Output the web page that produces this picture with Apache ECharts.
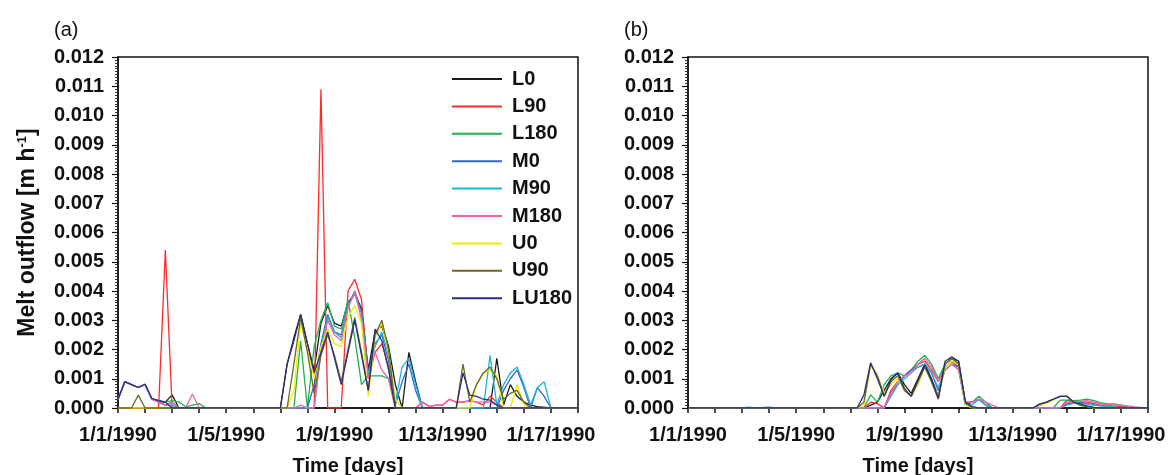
<!DOCTYPE html>
<html>
<head>
<meta charset="utf-8">
<title>Melt outflow</title>
<script src="https://cdn.jsdelivr.net/npm/echarts@6/dist/echarts.min.js"></script>
<style>
  html, body { margin: 0; padding: 0; background: #fff; }
  #chart { width: 1170px; height: 475px; }
</style>
</head>
<body>
<div id="chart"></div>
<script>
// series names and colours (legend order)
const names = ['L0', 'L90', 'L180', 'M0', 'M90', 'M180', 'U0', 'U90', 'LU180'];
const colors = ['#1a1a1a', '#ff2a2a', '#1fb04f', '#3566c8', '#19b6dc', '#f062a8', '#eeee00', '#6b6b1e', '#2b3080'];

// x tick labels every 4 days (x = days since 1/1/1990)
const dayLabels = ['1/1/1990', '1/5/1990', '1/9/1990', '1/13/1990', '1/17/1990'];

// panel (a): [day, melt outflow m/h]
const a_L0 = [[0,0.0003],[0.25,0.0009],[0.5,0.0008],[0.75,0.0007],[1,0.0008],[1.25,0.0003],[1.5,0.00025],[1.75,0.0002],[2,0.00045],[2.25,0],[6,0],[6.25,0.0015],[6.5,0.0024],[6.75,0.0032],[7,0.0022],[7.25,0.0013],[7.5,0.0029],[7.75,0.0035],[8,0.0029],[8.25,0.0028],[8.5,0.0036],[8.75,0.0039],[9,0.0034],[9.25,0.0013],[9.5,0.0026],[9.75,0.0028],[10,0.0021],[10.25,0.0008],[10.5,0],[10.75,0.0019],[11,0.0009],[11.25,0],[13.75,0],[14,0.0017],[14.25,0.0001],[14.5,0.0008],[14.75,0.0004],[15,0.0002],[15.25,0.0001],[15.5,0.00005],[16,0],[17,0]];
const a_L90 = [[0,0],[1.5,0],[1.75,0.0054],[2,0],[7.25,0],[7.5,0.0109],[7.75,0],[8.25,0],[8.5,0.004],[8.75,0.0044],[9,0.0037],[9.25,0.0011],[9.5,0.0019],[9.75,0.0022],[10,0.0014],[10.25,0],[11,0],[11.25,0.0002],[11.5,0.00005],[11.75,0.0001],[12,0.0001],[12.25,0.0003],[12.5,0.0002],[12.75,0.0002],[13,0.00025],[13.25,0.0002],[13.5,0.0001],[13.75,0.0004],[14,0.0002],[14.25,0],[17,0]];
const a_L180 = [[0,0.0003],[0.25,0.0009],[0.5,0.0008],[0.75,0.0007],[1,0.0008],[1.25,0.0003],[1.5,0.0002],[1.75,0.0002],[2,0.00025],[2.25,0.0002],[2.5,0.00005],[2.75,0.0001],[3,0.00015],[3.25,0],[6.5,0],[6.75,0.0023],[7,0],[7.25,0.0021],[7.5,0.003],[7.75,0.0036],[8,0.0028],[8.25,0.0027],[8.5,0.0037],[8.75,0.0024],[9,0.0008],[9.25,0.0011],[9.5,0.0011],[9.75,0.0011],[10,0.001],[10.25,0],[17,0]];
const a_M0 = [[0,0.0003],[0.25,0.0009],[0.5,0.0008],[0.75,0.0007],[1,0.0008],[1.25,0.0003],[1.5,0.00025],[1.75,0.0001],[2,0.0002],[2.25,0],[7,0],[7.25,0.0008],[7.5,0.0022],[7.75,0.0032],[8,0.0026],[8.25,0.0025],[8.5,0.0035],[8.75,0.004],[9,0.0033],[9.25,0.0012],[9.5,0.0022],[9.75,0.0025],[10,0.0016],[10.25,0.0001],[10.5,0.0009],[10.75,0.0015],[11,0.0006],[11.25,0],[14,0],[14.25,0.0006],[14.5,0.001],[14.75,0.0013],[15,0.0007],[15.25,0],[15.5,0.0007],[15.75,0.0004],[16,0],[17,0]];
const a_M90 = [[0,0.0003],[0.25,0.0009],[0.5,0.0008],[0.75,0.0007],[1,0.0008],[1.25,0.0003],[1.5,0.0002],[1.75,0.0001],[2,0.0001],[2.25,0],[7.25,0],[7.5,0.002],[7.75,0.0031],[8,0.0026],[8.25,0.0024],[8.5,0.0035],[8.75,0.0039],[9,0.0032],[9.25,0.0011],[9.5,0.0021],[9.75,0.0026],[10,0.0018],[10.25,0.0002],[10.5,0.0014],[10.75,0.0017],[11,0.0008],[11.25,0],[13.5,0],[13.75,0.0018],[14,0.0001],[14.25,0.0008],[14.5,0.0012],[14.75,0.0014],[15,0.0008],[15.25,0.0001],[15.5,0.0007],[15.75,0.0009],[16,0],[17,0]];
const a_M180 = [[0,0.0003],[0.25,0.0009],[0.5,0.0008],[0.75,0.0007],[1,0.0008],[1.25,0.0003],[1.5,0.0002],[1.75,0.0001],[2,0.0002],[2.25,0],[2.5,0],[2.75,0.00048],[3,0],[6.5,0],[6.75,0.0001],[7,0],[7.25,0],[7.5,0.0019],[7.75,0.003],[8,0.0025],[8.25,0.0023],[8.5,0.0034],[8.75,0.004],[9,0.003],[9.25,0.001],[9.5,0.0019],[9.75,0.0013],[10,0.001],[10.25,0],[11,0],[11.25,0.0002],[11.5,0.00005],[11.75,0.0001],[12,0.0001],[12.25,0.0003],[12.5,0.0002],[12.75,0.0002],[13,0.00025],[13.25,0.0002],[13.5,0.0002],[13.75,0.0002],[14,0.0001],[14.25,0],[17,0]];
const a_U0 = [[0,0],[6.25,0],[6.5,0.0006],[6.75,0.0029],[7,0.002],[7.25,0.001],[7.5,0.0021],[7.75,0.0027],[8,0.0022],[8.25,0.0021],[8.5,0.0031],[8.75,0.0035],[9,0.0029],[9.25,0.0004],[9.5,0.0024],[9.75,0.0029],[10,0.0019],[10.25,0.0003],[10.5,0],[13,0],[13.25,0.0008],[13.5,0.0012],[13.75,0.0013],[14,0.0011],[14.25,0],[14.5,0],[14.75,0.0008],[15,0.0001],[15.25,0],[17,0]];
const a_U90 = [[0,0],[0.5,0],[0.75,0.00044],[1,0],[6.25,0],[6.5,0.0015],[6.75,0.0031],[7,0.0019],[7.25,0.0005],[7.5,0.0018],[7.75,0.0025],[8,0.0018],[8.25,0.0009],[8.5,0.002],[8.75,0.0031],[9,0.0019],[9.25,0.0006],[9.5,0.0025],[9.75,0.003],[10,0.002],[10.25,0],[12.5,0],[12.75,0.0015],[13,0.0002],[13.25,0.0008],[13.5,0.0012],[13.75,0.0014],[14,0.001],[14.25,0.0003],[14.5,0.0005],[14.75,0.0006],[15,0.0002],[15.25,0],[17,0]];
const a_LU180 = [[0,0.0003],[0.25,0.0009],[0.5,0.0008],[0.75,0.0007],[1,0.00082],[1.25,0.00033],[1.5,0.00025],[1.75,0.0002],[2,0],[6,0],[6.25,0.0015],[6.5,0.0023],[6.75,0.0032],[7,0.0022],[7.25,0.0012],[7.5,0.0019],[7.75,0.0026],[8,0.0017],[8.25,0.0008],[8.5,0.0019],[8.75,0.003],[9,0.0018],[9.25,0.0006],[9.5,0.0027],[9.75,0.0023],[10,0.0013],[10.25,0],[12.5,0],[12.75,0.0012],[13,0.00044],[13.25,0.0004],[13.5,0.0003],[13.75,0.00027],[14,0.0001],[14.25,0],[17,0]];

// panel (b)
const b_L0 = [[0,0],[6.5,0],[6.75,0.0001],[7,0.0002],[7.25,0.0006],[7.5,0.001],[7.75,0.0012],[8,0.0008],[8.25,0.0005],[8.5,0.001],[8.75,0.0015],[9,0.001],[9.25,0.0004],[9.5,0.0015],[9.75,0.0017],[10,0.0016],[10.25,0.0002],[10.5,0],[12.75,0],[13,0.0001],[13.25,0.0002],[13.5,0.0003],[13.75,0.0004],[14,0.0004],[14.25,0.0002],[14.5,0.0001],[14.75,0.00005],[15,0],[17,0]];
const b_L90 = [[0,0],[6.5,0],[6.75,0.0002],[7,0.00015],[7.25,0],[7.5,0.0006],[7.75,0.0009],[8,0.0011],[8.25,0.0013],[8.5,0.0015],[8.75,0.0016],[9,0.0013],[9.25,0.0009],[9.5,0.0014],[9.75,0.0016],[10,0.0014],[10.25,0.0002],[10.5,0.0002],[10.75,0.0003],[11,0.0001],[11.25,0],[13.75,0],[14,0.00027],[14.25,0.0002],[14.5,0.0002],[14.75,0.0002],[15,0.00015],[15.25,0.0001],[15.5,0.0001],[16,0.00005],[16.5,0],[17,0]];
const b_L180 = [[0,0],[2,0],[2.25,0.00003],[2.5,0],[3,0.00003],[3.25,0],[6.5,0],[6.75,0.00045],[7,0.0002],[7.25,0.0008],[7.5,0.0011],[7.75,0.0012],[8,0.0011],[8.25,0.0013],[8.5,0.0016],[8.75,0.0018],[9,0.0015],[9.25,0.001],[9.5,0.0015],[9.75,0.0017],[10,0.0015],[10.25,0.0001],[10.5,0.0002],[10.75,0.0004],[11,0.0002],[11.25,0],[13.5,0],[13.75,0.00027],[14,0.00027],[14.25,0.00025],[14.5,0.00027],[14.75,0.0003],[15,0.00025],[15.25,0.00018],[15.5,0.00014],[15.75,0.00014],[16,0.0001],[16.25,0.00002],[16.5,0],[17,0]];
const b_M0 = [[0,0],[7.25,0],[7.5,0.0005],[7.75,0.0008],[8,0.0011],[8.25,0.0013],[8.5,0.0014],[8.75,0.0015],[9,0.0012],[9.25,0.0006],[9.5,0.0013],[9.75,0.0015],[10,0.0014],[10.25,0.0001],[10.5,0.0002],[10.75,0.0003],[11,0.0001],[11.25,0],[13.75,0],[14,0.00014],[14.25,0.00018],[14.5,0.00018],[14.75,0.00015],[15,0.0001],[15.25,0.00008],[15.5,0.00005],[16,0],[17,0]];
const b_M90 = [[0,0],[7.25,0],[7.5,0.0004],[7.75,0.0008],[8,0.001],[8.25,0.0012],[8.5,0.0014],[8.75,0.0015],[9,0.0012],[9.25,0.0007],[9.5,0.0013],[9.75,0.0015],[10,0.0013],[10.25,0.0001],[10.5,0.0001],[10.75,0.0003],[11,0.0001],[11.25,0],[13.75,0],[14,0.0001],[14.25,0.00016],[14.5,0.00016],[14.75,0.00014],[15,0.0001],[15.5,0.00005],[16,0],[17,0]];
const b_M180 = [[0,0],[7.25,0],[7.5,0.0005],[7.75,0.0009],[8,0.0011],[8.25,0.0012],[8.5,0.0015],[8.75,0.0017],[9,0.0014],[9.25,0.0009],[9.5,0.0013],[9.75,0.0015],[10,0.0013],[10.25,0.0002],[10.5,0.0002],[10.75,0.0003],[11,0.0002],[11.25,0.0001],[11.5,0],[13.75,0],[14,0.0002],[14.25,0.0002],[14.5,0.00023],[14.75,0.00025],[15,0.0002],[15.25,0.00015],[15.5,0.00012],[15.75,0.0001],[16,0.0001],[16.25,0.00007],[16.5,0.00004],[17,0]];
const b_U0 = [[0,0],[6.25,0],[6.5,0.0001],[6.75,0.0015],[7,0.0011],[7.25,0.0005],[7.5,0.0008],[7.75,0.001],[8,0.0006],[8.25,0.0004],[8.5,0.0008],[8.75,0.0014],[9,0.0009],[9.25,0.0004],[9.5,0.0014],[9.75,0.0016],[10,0.0015],[10.25,0.0001],[10.5,0],[12.75,0],[13,0.0001],[13.25,0.00016],[13.5,0.00027],[13.75,0.0004],[14,0.0004],[14.25,0.0002],[14.5,0.0001],[14.75,0.00005],[15,0],[17,0]];
const b_U90 = [[0,0],[6.25,0],[6.5,0.0002],[6.75,0.0015],[7,0.0011],[7.25,0.0004],[7.5,0.0009],[7.75,0.0011],[8,0.0006],[8.25,0.0004],[8.5,0.0009],[8.75,0.0014],[9,0.0009],[9.25,0.0003],[9.5,0.0015],[9.75,0.0017],[10,0.0015],[10.25,0.0002],[10.5,0],[12.75,0],[13,0.00012],[13.25,0.0002],[13.5,0.0003],[13.75,0.0004],[14,0.0004],[14.25,0.0002],[14.5,0.0001],[14.75,0.00005],[15,0],[17,0]];
const b_LU180 = [[0,0],[6.25,0],[6.5,0.00044],[6.75,0.00155],[7,0.001],[7.25,0.0004],[7.5,0.00096],[7.75,0.0012],[8,0.00067],[8.25,0.0004],[8.5,0.00096],[8.75,0.00147],[9,0.00096],[9.25,0.00033],[9.5,0.0016],[9.75,0.00175],[10,0.0016],[10.25,0.0002],[10.5,0.00005],[10.75,0],[12.75,0],[13,0.00014],[13.25,0.0002],[13.5,0.0003],[13.75,0.0004],[14,0.0004],[14.25,0.0002],[14.5,0.00014],[14.75,0.00007],[15,0.00002],[15.25,0],[17,0]];

const panelA = [a_L0, a_L90, a_L180, a_M0, a_M90, a_M180, a_U0, a_U90, a_LU180];
const panelB = [b_L0, b_L90, b_L180, b_M0, b_M90, b_M180, b_U0, b_U90, b_LU180];

const FONT = '"Liberation Sans", Arial, sans-serif';
const chart = echarts.init(document.getElementById('chart'), null, { renderer: 'canvas' });

const makeX = (gridIndex) => ({
  type: 'value',
  gridIndex,
  min: 0,
  max: 17,
  interval: 1,
  name: 'Time [days]',
  nameLocation: 'middle',
  nameGap: 48,
  nameTextStyle: { fontFamily: FONT, fontWeight: 'bold', fontSize: 20, color: '#111' },
  axisLine: { lineStyle: { color: '#111', width: 1.5 } },
  axisTick: { length: 5, lineStyle: { color: '#111', width: 1.5 } },
  axisLabel: {
    margin: 17,
    fontFamily: FONT, fontWeight: 'bold', fontSize: 20, color: '#111',
    formatter: (v) => (v % 4 === 0 ? dayLabels[v / 4] : '')
  },
  splitLine: { show: false }
});

const makeY = (gridIndex, withName) => ({
  type: 'value',
  gridIndex,
  min: 0,
  max: 0.012,
  interval: 0.001,
  name: withName ? '{a|Melt outflow [m h}{s|-1}{a|]}' : '',
  nameLocation: 'middle',
  nameGap: 78,
  nameTextStyle: {
    rich: {
      a: { fontFamily: FONT, fontWeight: 'bold', fontSize: 23, color: '#111', lineHeight: 24 },
      s: { fontFamily: FONT, fontWeight: 'bold', fontSize: 13, color: '#111', lineHeight: 24, verticalAlign: 'top' }
    }
  },
  axisLine: { lineStyle: { color: '#111', width: 1.5 } },
  axisTick: { length: 6, lineStyle: { color: '#111', width: 1.2 } },
  minorTick: { show: true, splitNumber: 10, length: 3, lineStyle: { color: '#333', width: 1 } },
  axisLabel: {
    margin: 14,
    fontFamily: FONT, fontWeight: 'bold', fontSize: 20, color: '#111',
    formatter: (v) => v.toFixed(3)
  },
  splitLine: { show: false },
  minorSplitLine: { show: false }
});

const series = [];
[panelA, panelB].forEach((panel, p) => {
  panel.forEach((data, i) => {
    series.push({
      name: names[i],
      type: 'line',
      xAxisIndex: p,
      yAxisIndex: p,
      data,
      symbol: 'none',
      animation: false,
      lineStyle: { color: colors[i], width: 1.3 },
      itemStyle: { color: colors[i] }
    });
  });
});

const gridBase = { top: 57, width: 460, height: 351, show: true, borderColor: '#111', borderWidth: 1.5, backgroundColor: 'transparent', containLabel: false, outerBoundsMode: 'none' };

chart.setOption({
  backgroundColor: '#fff',
  animation: false,
  title: [
    { text: '(a)', left: 49, top: 15, textStyle: { fontFamily: FONT, fontWeight: 'normal', fontSize: 20, color: '#111' } },
    { text: '(b)', left: 619, top: 15, textStyle: { fontFamily: FONT, fontWeight: 'normal', fontSize: 20, color: '#111' } }
  ],
  grid: [
    Object.assign({ left: 118 }, gridBase),
    Object.assign({ left: 688 }, gridBase)
  ],
  legend: {
    data: names,
    orient: 'vertical',
    left: 447,
    top: 64,
    icon: 'rect',
    itemWidth: 50,
    itemHeight: 2,
    itemGap: 7.4,
    selectedMode: false,
    textStyle: { fontFamily: FONT, fontWeight: 'bold', fontSize: 20, color: '#111', lineHeight: 20, padding: [0, 0, 0, 5] }
  },
  xAxis: [makeX(0), makeX(1)],
  yAxis: [makeY(0, true), makeY(1, false)],
  series
});
</script>
</body>
</html>
